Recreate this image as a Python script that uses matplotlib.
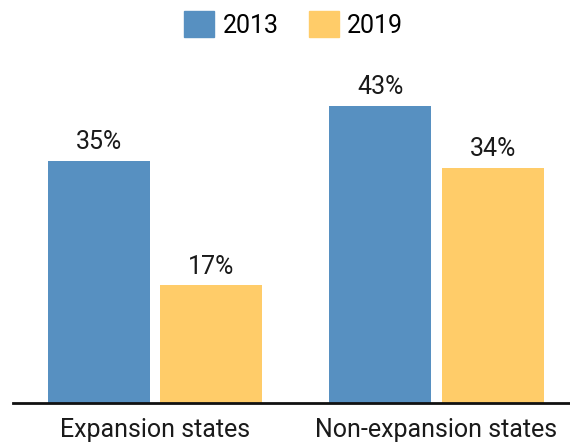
import numpy as np
import matplotlib

matplotlib.use('Agg')
import matplotlib.pyplot as plt
from matplotlib.patches import Patch

plt.rcParams['font.family'] = ['Roboto', 'DejaVu Sans']

categories = ['Expansion states', 'Non-expansion states']
years = ['2013', '2019']
values_2013 = [35, 43]
values_2019 = [17, 34]
colors = ['#5790c1', '#ffcc69']

fig = plt.figure(figsize=(5.7, 4.44), dpi=100)
ax = fig.add_axes([13 / 570, 1 - 403 / 444, 1 - 13 / 570, (403 - 60) / 444])

x = np.arange(len(categories))
offset = 0.2
width = 0.362
for vals, off, col in [(values_2013, -offset, colors[0]), (values_2019, offset, colors[1])]:
    bars = ax.bar(x + off, vals, width=width, color=col)
    for b, v in zip(bars, vals):
        ax.text(b.get_x() + b.get_width() / 2, v + 1.0, f"{v}%", ha='center', va='bottom',
                fontsize=18, color='#1a1a1a')

ax.set_xlim(-0.504, 1.474)
ax.set_ylim(0, 49.6)
ax.set_xticks(x)
ax.set_xticklabels(categories, fontsize=18, color='#1a1a1a')
ax.tick_params(axis='x', length=0, pad=11)
ax.set_yticks([])
for s in ['top', 'right', 'left']:
    ax.spines[s].set_visible(False)
ax.spines['bottom'].set_linewidth(2)
ax.spines['bottom'].set_color('#111111')

handles = [Patch(color=c, label=y) for c, y in zip(colors, years)]
fig.legend(handles=handles, loc='upper center', bbox_to_anchor=(0.515, 1.025), ncol=2, frameon=False,
           fontsize=18, handlelength=1.2, handleheight=1.2, handletextpad=0.35, columnspacing=1.2)

fig.savefig('out.png', dpi=100)
